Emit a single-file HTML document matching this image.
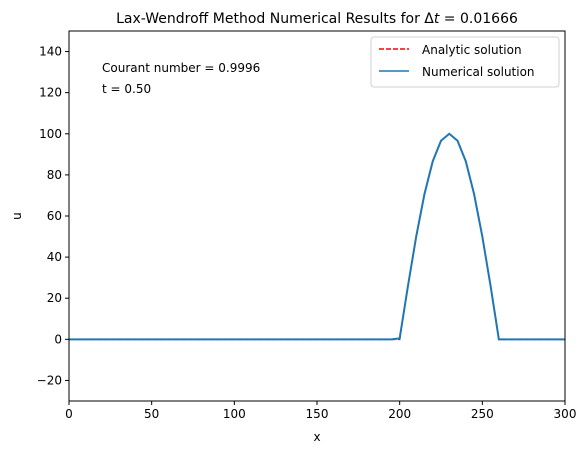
<!DOCTYPE html>
<html><head><meta charset="utf-8"><style>
body{margin:0;background:#fff;}
svg text{font-family:"DejaVu Sans","Liberation Sans",sans-serif;fill:#000;}
</style></head><body>
<svg id="chart" width="587" height="454" xmlns="http://www.w3.org/2000/svg">
<text x="317" y="23" font-size="14" text-anchor="middle">Lax-Wendroff Method Numerical Results for Δ<tspan font-style="italic">t</tspan> = 0.01666</text>
<g id="plot"></g>
<text x="317" y="441" font-size="12" text-anchor="middle">x</text>
<text x="21" y="216" font-size="12" text-anchor="middle" transform="rotate(-90 21 216)">u</text>
<text x="102" y="72" font-size="12">Courant number = 0.9996</text>
<text x="102" y="93" font-size="12">t = 0.50</text>
<g>
<rect x="371" y="37" width="188" height="50" rx="3" fill="#fff" stroke="#ccc" opacity="0.9"/>
<line x1="379" y1="49" x2="409" y2="49" stroke="#ff0000" stroke-width="1.5" stroke-dasharray="5,2"/>
<text x="422" y="54" font-size="12">Analytic solution</text>
<line x1="379" y1="71" x2="409" y2="71" stroke="#1f77b4" stroke-width="1.5"/>
<text x="422" y="76" font-size="12">Numerical solution</text>
</g>
</svg>
<script>
const xValues=[0,195,200,205,210,215,220,225,230,235,240,245,250,255,260,300];
const analytic=[0,0,0,25.9,50,70.7,86.6,96.6,100,96.6,86.6,70.7,50,25.9,0,0];
const numerical=[0,0,0.5,25.9,50,70.7,86.6,96.6,100,96.6,86.6,70.7,50,25.9,0,0];
const xTicks=[0,50,100,150,200,250,300];
const yTicks=[-20,0,20,40,60,80,100,120,140];
const L=69,R=565,T=31,B=401;
const sx=v=>L+(v-0)/300*(R-L);
const sy=v=>B-(v+30)/180*(B-T);
const g=document.getElementById('plot');
const NS='http://www.w3.org/2000/svg';
function mk(t,a){const e=document.createElementNS(NS,t);for(const k in a)e.setAttribute(k,a[k]);g.appendChild(e);return e;}
xTicks.forEach(v=>{
 const l=mk('line',{x1:sx(v),x2:sx(v),y1:B,y2:B+4,stroke:'#000'});
 
 
 const t=mk('text',{x:sx(v),y:B+17,'font-size':12,'text-anchor':'middle'});t.textContent=v;
 
 
});
yTicks.forEach(v=>{
 const l=mk('line',{x1:L-4,x2:L,y1:sy(v),y2:sy(v),stroke:'#000'});
 
 
 const t=mk('text',{x:L-7,y:sy(v)+4,'font-size':12,'text-anchor':'end'});t.textContent=v<0?'\u2212'+(-v):v;
 
 
});
const pa=mk('polyline',{points:xValues.map((x,i)=>sx(x)+','+sy(analytic[i])).join(' '),fill:'none',stroke:'#ff0000','stroke-width':1.5,'stroke-dasharray':'5,2'});


const pn=mk('polyline',{points:xValues.map((x,i)=>sx(x)+','+sy(numerical[i])).join(' '),fill:'none',stroke:'#1f77b4','stroke-width':2});


const f=mk('rect',{x:L,y:T,width:R-L,height:B-T,fill:'none',stroke:'#000','stroke-width':1});


</script>
</body></html>
